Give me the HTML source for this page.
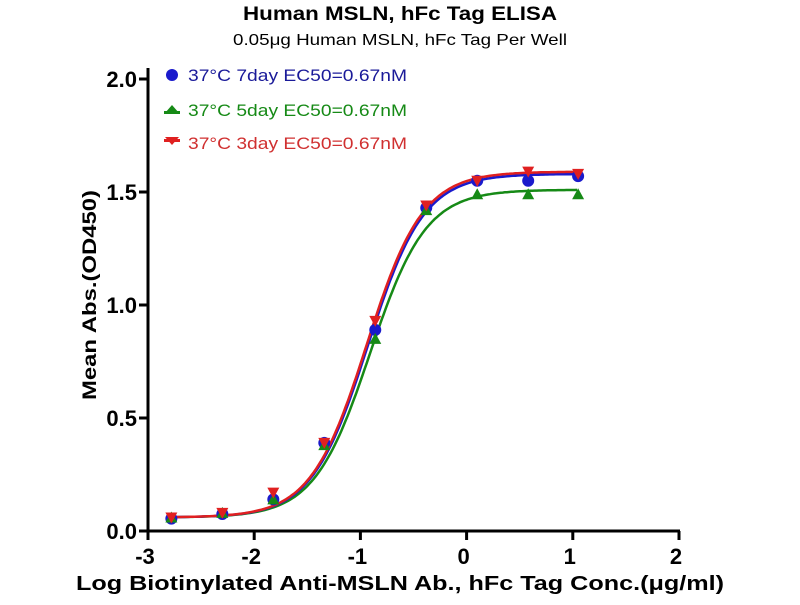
<!DOCTYPE html>
<html><head><meta charset="utf-8"><style>
body{margin:0;background:#fff;}
svg text{font-family:"Liberation Sans",Arial,sans-serif;}
</style></head><body>
<svg id="s" width="800" height="600" xmlns="http://www.w3.org/2000/svg">
<text x="243" y="20" textLength="314" lengthAdjust="spacingAndGlyphs" font-size="19" font-weight="bold">Human MSLN, hFc Tag ELISA</text>
<text x="233" y="45" textLength="334" lengthAdjust="spacingAndGlyphs" font-size="16">0.05μg Human MSLN, hFc Tag Per Well</text>
<g stroke="#000" stroke-width="3" fill="none">
<line x1="148" y1="68" x2="148" y2="532"/>
<line x1="146" y1="531" x2="680" y2="531"/>
</g>
<g id="ticks" stroke="#000" stroke-width="3"></g>
<g font-size="22" font-weight="bold" text-anchor="end" id="yl"></g>
<g font-size="22" font-weight="bold" text-anchor="middle" id="xl"></g>
<text x="76" y="590" textLength="648" lengthAdjust="spacingAndGlyphs" font-size="20" font-weight="bold">Log Biotinylated Anti-MSLN Ab., hFc Tag Conc.(μg/ml)</text>
<text transform="translate(96,400) rotate(-90)" textLength="210" lengthAdjust="spacingAndGlyphs" font-size="19" font-weight="bold">Mean Abs.(OD450)</text>
<g id="plot"></g>
<g font-size="17">
<circle cx="172" cy="75" r="6" fill="#1a1acc"/>
<text x="188" y="81" textLength="219" lengthAdjust="spacingAndGlyphs" fill="#1a1a99">37°C 7day EC50=0.67nM</text>
<polygon points="165,113 179,113 172,105" fill="#168a16"/><rect x="164" y="111" width="16" height="3" fill="#168a16"/>
<text x="188" y="116" textLength="219" lengthAdjust="spacingAndGlyphs" fill="#168a16">37°C 5day EC50=0.67nM</text>
<polygon points="165,137 179,137 172,145" fill="#e02020"/><rect x="164" y="139" width="16" height="3" fill="#e02020"/>
<text x="188" y="149" textLength="219" lengthAdjust="spacingAndGlyphs" fill="#d03030">37°C 3day EC50=0.67nM</text>
</g>
</svg>
<script>
const X=x=>148+(x+3)*106.2, Y=y=>531-y*226;
const NS="http://www.w3.org/2000/svg";
function el(p,t,a,txt){const e=document.createElementNS(NS,t);for(const k in a)e.setAttribute(k,a[k]);if(txt!=null)e.textContent=txt;document.getElementById(p).appendChild(e);return e;}
for(let i=-3;i<=2;i++){el("ticks","line",{x1:X(i),y1:531,x2:X(i),y2:540});el("xl","text",{x:X(i)-3,y:564},i);}
for(let v=0;v<=2.001;v+=0.5){el("ticks","line",{x1:139,y1:Y(v),x2:148,y2:Y(v)});el("yl","text",{x:137,y:Y(v)+8},v.toFixed(1));}
const xs=[-2.78,-2.3,-1.82,-1.34,-0.86,-0.38,0.10,0.58,1.05];
const ser=[
{c:"#168a16",b:0.06,t:1.51,e:-0.91,h:1.65,d:[0.06,0.08,0.14,0.38,0.85,1.42,1.49,1.49,1.49],m:"tri"},
{c:"#1a1acc",b:0.06,t:1.58,e:-0.93,h:1.65,d:[0.055,0.075,0.14,0.39,0.89,1.43,1.55,1.55,1.57],m:"dot"},
{c:"#e02020",b:0.06,t:1.59,e:-0.94,h:1.65,d:[0.06,0.08,0.17,0.39,0.93,1.44,1.55,1.59,1.58],m:"inv"}];
for(const s of ser){
 let p="";for(let x=-2.78;x<=1.06;x+=0.02){const y=s.b+(s.t-s.b)/(1+Math.pow(10,(s.e-x)*s.h));p+=(p?"L":"M")+X(x).toFixed(1)+","+Y(y).toFixed(1);}
 el("plot","path",{d:p,stroke:s.c,"stroke-width":2.5,fill:"none"});
}
for(const s of [ser[1],ser[0],ser[2]]){
 s.d.forEach((v,i)=>{const cx=X(xs[i]),cy=Y(v);
  if(s.m=="dot")el("plot","circle",{cx,cy,r:6,fill:s.c});
  else if(s.m=="tri")el("plot","polygon",{points:`${cx-6},${cy+5} ${cx+6},${cy+5} ${cx},${cy-6}`,fill:s.c});
  else el("plot","polygon",{points:`${cx-6},${cy-5} ${cx+6},${cy-5} ${cx},${cy+6}`,fill:s.c});});
}
</script>
</body></html>
